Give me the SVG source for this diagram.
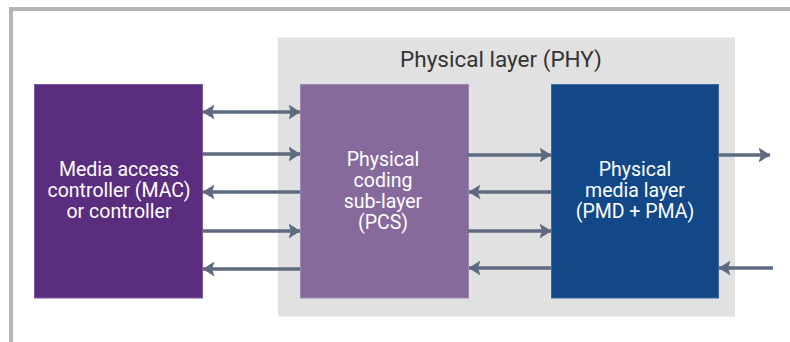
<svg xmlns="http://www.w3.org/2000/svg" width="790" height="342" viewBox="0 0 790 342">
  <style>
    .lbl { font-family: Roboto, "Liberation Sans", sans-serif; font-size: 19.5px; fill: #ffffff; text-anchor: middle; }
    .title { font-family: Roboto, "Liberation Sans", sans-serif; font-size: 22.5px; fill: #333333; text-anchor: middle; }
    .conn { stroke: #5e6a81; stroke-width: 3.4; fill: none; }
  </style>
  <defs>
    <marker id="ah" viewBox="0 0 12 15" refX="11.5" refY="7.5" markerWidth="12" markerHeight="15" markerUnits="userSpaceOnUse" orient="auto-start-reverse">
      <path d="M0,0 L12,7.5 L0,15 L2.5,7.5 Z" fill="#5e6a81"/>
    </marker>
  </defs>
  <rect x="0" y="0" width="790" height="342" fill="#ffffff"/>
  <g id="frame">
    <path d="M11,342 L11,9 L790,9" fill="none" stroke="#b5b5b5" stroke-width="4"/>
  </g>
  <g id="phy">
    <rect x="278" y="37.5" width="457" height="279" fill="#e1e1e1"/>
    <text class="title" x="501" y="67">Physical layer (PHY)</text>
  </g>
  <g id="mac">
    <rect x="34.5" y="84.5" width="168" height="213.5" fill="#5a2d7e" stroke="#7e5a9a" stroke-width="1"/>
    <text class="lbl" x="119" y="176">Media access</text>
    <text class="lbl" x="119" y="197">controller (MAC)</text>
    <text class="lbl" x="119" y="218">or controller</text>
  </g>
  <g id="pcs">
    <rect x="300.5" y="84.5" width="168" height="213.5" fill="#866a9b" stroke="#9f88b0" stroke-width="1"/>
    <text class="lbl" x="383" y="166">Physical</text>
    <text class="lbl" x="383" y="187">coding</text>
    <text class="lbl" x="383" y="208">sub-layer</text>
    <text class="lbl" x="383" y="229">(PCS)</text>
  </g>
  <g id="pmd">
    <rect x="551.5" y="84.5" width="167" height="213.5" fill="#134888" stroke="#3c68a0" stroke-width="1"/>
    <text class="lbl" x="635" y="176">Physical</text>
    <text class="lbl" x="635" y="197">media layer</text>
    <text class="lbl" x="635" y="218">(PMD + PMA)</text>
  </g>
  <g id="connectors">
    <line class="conn" x1="203" y1="112" x2="300" y2="112" marker-start="url(#ah)" marker-end="url(#ah)"/>
    <line class="conn" x1="203" y1="154" x2="300" y2="154" marker-end="url(#ah)"/>
    <line class="conn" x1="300" y1="192" x2="203" y2="192" marker-end="url(#ah)"/>
    <line class="conn" x1="203" y1="231" x2="300" y2="231" marker-end="url(#ah)"/>
    <line class="conn" x1="300" y1="269" x2="203" y2="269" marker-end="url(#ah)"/>
    <line class="conn" x1="468" y1="155" x2="551" y2="155" marker-end="url(#ah)"/>
    <line class="conn" x1="551" y1="192" x2="469" y2="192" marker-end="url(#ah)"/>
    <line class="conn" x1="468" y1="231" x2="551" y2="231" marker-end="url(#ah)"/>
    <line class="conn" x1="551" y1="268" x2="469" y2="268" marker-end="url(#ah)"/>
    <line class="conn" x1="718" y1="155" x2="770" y2="155" marker-end="url(#ah)"/>
    <line class="conn" x1="773" y1="268" x2="719" y2="268" marker-end="url(#ah)"/>
  </g>
</svg>
